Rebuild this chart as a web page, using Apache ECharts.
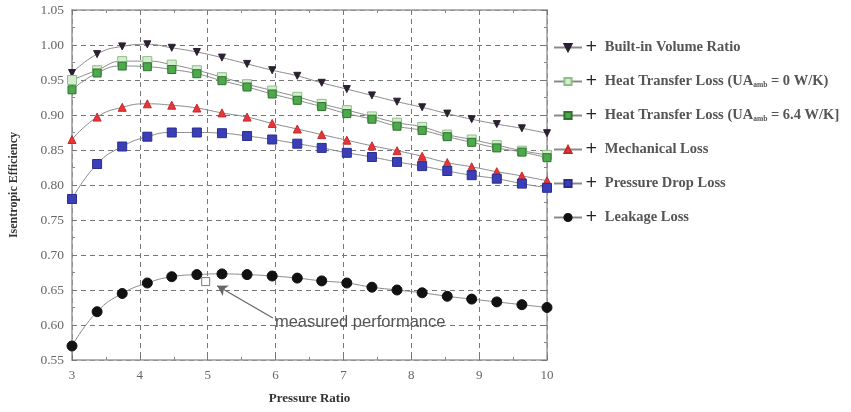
<!DOCTYPE html>
<html><head><meta charset="utf-8">
<script src="https://cdn.jsdelivr.net/npm/echarts@6/dist/echarts.min.js"></script>
<style>html,body{margin:0;padding:0;background:#fff}#c{width:851px;height:412px}</style>
</head><body><div id="c"></div>
<script>
const pressureRatio = [3.00,3.37,3.74,4.11,4.47,4.84,5.21,5.58,5.95,6.32,6.68,7.05,7.42,7.79,8.16,8.53,8.89,9.26,9.63,10.00];
const builtIn = [0.960,0.987,0.998,1.001,0.996,0.990,0.982,0.973,0.964,0.956,0.946,0.937,0.928,0.919,0.911,0.902,0.894,0.887,0.881,0.874];
const heatUA0 = [0.950,0.964,0.977,0.977,0.972,0.964,0.954,0.944,0.935,0.926,0.916,0.907,0.898,0.889,0.883,0.872,0.865,0.857,0.849,0.843];
const heatUA64 = [0.936,0.960,0.970,0.969,0.965,0.959,0.949,0.940,0.930,0.921,0.912,0.902,0.894,0.884,0.878,0.869,0.861,0.853,0.847,0.839];
const mechanical = [0.865,0.897,0.911,0.916,0.914,0.910,0.903,0.897,0.888,0.880,0.872,0.864,0.856,0.849,0.841,0.832,0.826,0.819,0.813,0.806];
const pressureDrop = [0.780,0.830,0.855,0.869,0.875,0.875,0.874,0.870,0.865,0.859,0.853,0.846,0.840,0.833,0.827,0.820,0.814,0.809,0.802,0.796];
const leakage = [0.570,0.619,0.645,0.660,0.669,0.672,0.673,0.672,0.670,0.667,0.663,0.660,0.654,0.650,0.646,0.641,0.637,0.633,0.629,0.625];
const measuredPoint = [4.97, 0.662];
const arrowFrom = [5.96, 0.610];
const arrowTo = [5.14, 0.656];
const labelAt = [5.99, 0.604];
const xTicks = [3,4,5,6,7,8,9,10];
const yTicks = [0.55,0.60,0.65,0.70,0.75,0.80,0.85,0.90,0.95,1.00,1.05];

const pair = arr => arr.map((v,i)=>[pressureRatio[i], v]);
const serif = '"Liberation Serif","DejaVu Serif",serif';
const mk = (name, data, symbol, size, color, border, rotate) => ({
  name, type:'line', data: pair(data), smooth:true, symbol, symbolSize:size, symbolRotate: rotate||0,
  lineStyle:{color:'#8a8a8a', width:1},
  itemStyle:{color, borderColor:border||color, borderWidth:1},
  emphasis:{disabled:true}, z:3
});
const series = [
  mk('Built-in Volume Ratio', builtIn, 'triangle', 7, '#2a2030', '#2a2030', 180),
  mk('Heat Transfer Loss (UA{s|amb} = 0 W/K)', heatUA0, 'rect', 9, '#d4ecd0', '#8fbf88'),
  mk('Heat Transfer Loss (UA{s|amb} = 6.4 W/K]', heatUA64, 'rect', 8, '#4caa4c', '#2f6f2f'),
  mk('Mechanical Loss', mechanical, 'triangle', 8, '#e8353a', '#c42a2a'),
  mk('Pressure Drop Loss', pressureDrop, 'rect', 9, '#3a3fb8', '#2a2e90'),
  mk('Leakage Loss', leakage, 'circle', 10, '#111111', '#111111')
];
series[5].markLine = {
  silent:true, symbol:['none','arrow'], symbolSize:[9,10],
  lineStyle:{color:'#666', width:1.2, type:'solid'}, label:{show:false},
  data:[[{coord:arrowFrom},{coord:arrowTo}]]
};
series[5].markPoint = {
  silent:true,
  data:[
    {coord:measuredPoint, symbol:'rect', symbolSize:8, itemStyle:{color:'#fff', borderColor:'#777', borderWidth:1}, label:{show:false}},
    {coord:labelAt, symbol:'circle', symbolSize:0, label:{show:true, position:'right', distance:0, formatter:'measured performance', color:'#555', fontSize:16.5, fontFamily:'"Liberation Sans",Arial,sans-serif'}}
  ]
};

const axisCommon = {
  axisLine:{show:true, onZero:false, lineStyle:{color:'#9a9a9a', width:1.5}},
  axisTick:{show:true, inside:true, length:5, lineStyle:{color:'#777'}},
  minorTick:{show:true, splitNumber:2, length:3, lineStyle:{color:'#888'}}
};
const chart = echarts.init(document.getElementById('c'));
chart.setOption({
  animation:false,
  backgroundColor:'#fff',
  grid:{left:69, right:304, top:10, bottom:52},
  xAxis:[
    Object.assign({type:'value', min:3, max:10, interval:1, name:'Pressure Ratio', nameLocation:'middle', nameGap:32,
      nameTextStyle:{fontFamily:serif, fontWeight:'bold', fontSize:13, color:'#333'},
      axisLabel:{color:'#666', fontSize:13, fontFamily:serif, margin:9, formatter:v=>xTicks.includes(v)?String(v):''},
      splitLine:{show:true, lineStyle:{color:'#777', type:[5,4], width:1}}}, axisCommon),
    Object.assign({type:'value', position:'top', min:3, max:10, interval:1, axisLabel:{show:false}, splitLine:{show:false}}, axisCommon)
  ],
  yAxis:[
    Object.assign({type:'value', min:0.55, max:1.05, interval:0.05, name:'Isentropic Efficiency', nameLocation:'middle', nameGap:52,
      nameTextStyle:{fontFamily:serif, fontWeight:'bold', fontSize:12, color:'#333'},
      axisLabel:{color:'#666', fontSize:13.5, fontFamily:serif, margin:8, formatter:v=>{const t=yTicks.find(y=>Math.abs(y-v)<1e-6);return t!==undefined?t.toFixed(2):'';}},
      splitLine:{show:true, lineStyle:{color:'#777', type:[5,4], width:1}}}, axisCommon),
    Object.assign({type:'value', position:'right', min:0.55, max:1.05, interval:0.05, axisLabel:{show:false}, splitLine:{show:false}}, axisCommon)
  ],
  legend:{
    orient:'vertical', left:553, top:40, itemWidth:28, itemHeight:9, itemGap:19, padding:0,
    data: series.map(s=>s.name),
    formatter: n => '{p|+}  ' + n,
    textStyle:{color:'#555', fontFamily:serif, fontWeight:'bold', fontSize:14.5, padding:[0,0,0,-2],
      rich:{p:{fontSize:15, color:'#222', fontFamily:'"DejaVu Sans",sans-serif', fontWeight:'normal'},
            s:{fontSize:7.5, color:'#555', fontFamily:serif, fontWeight:'bold', verticalAlign:'bottom', padding:[4,0,0,0]}}},
    selectedMode:false
  },
  series
});
</script></body></html>
